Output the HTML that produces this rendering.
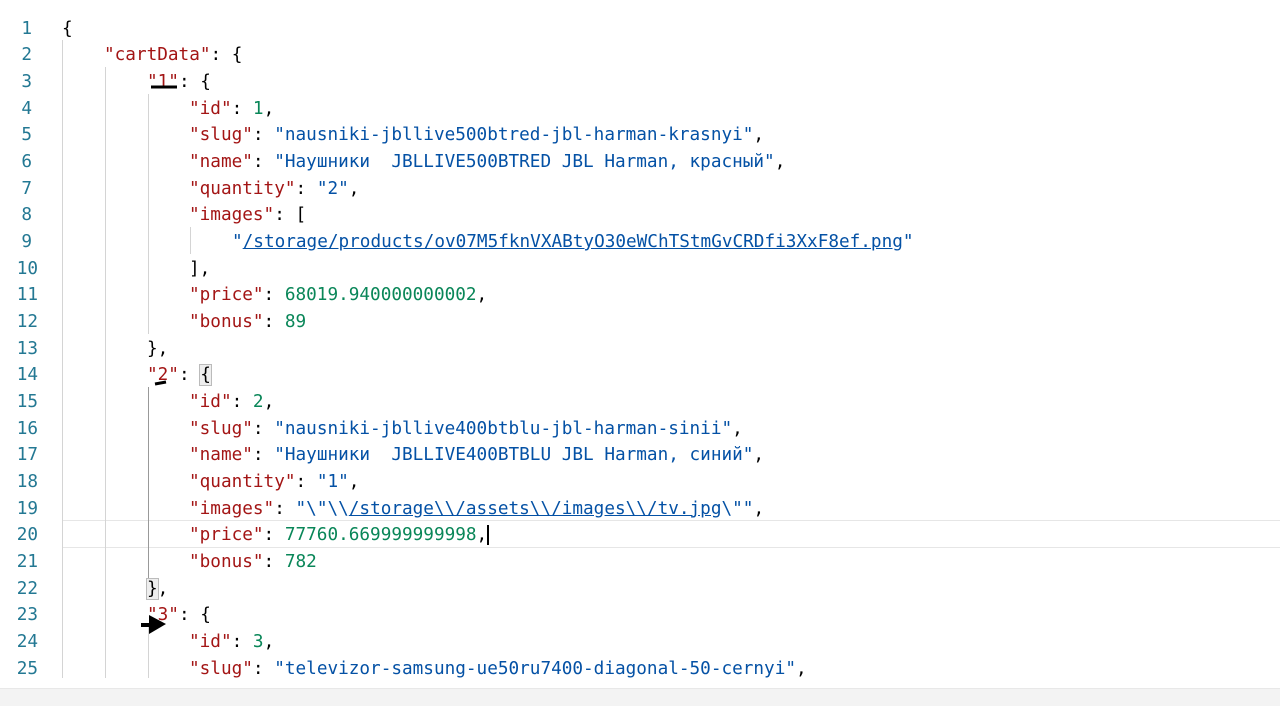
<!DOCTYPE html>
<html><head><meta charset="utf-8">
<style>
html,body{margin:0;padding:0;background:#fff;width:1280px;height:706px;overflow:hidden;position:relative}
.ln,.c{position:absolute;font-family:"DejaVu Sans Mono","Liberation Mono","Noto Sans CJK SC",monospace;font-size:17.7px;line-height:26.67px;white-space:pre;margin-top:2px}
.ln{color:#237893;width:32px;text-align:right;left:0}
.k{color:#a31515}.s{color:#0451a5}.n{color:#098658}.p{color:#000}
.u{text-decoration:underline}
.g{position:absolute;width:1px;background:#d4d4d4}
</style></head><body>
<div style="position:absolute;left:62px;top:520px;width:1218px;height:26px;border-top:1px solid #e6e6e6;border-bottom:1px solid #e6e6e6"></div>
<div class="g" style="left:62px;top:40px;height:638px"></div>
<div class="g" style="left:105px;top:67px;height:611px"></div>
<div class="g" style="left:148px;top:94px;height:240px"></div>
<div class="g" style="left:148px;top:387px;height:207px;background:#999"></div>
<div class="g" style="left:148px;top:627px;height:51px"></div>
<div class="g" style="left:190px;top:227px;height:27px"></div>
<div style="position:absolute;left:0;top:688px;width:1280px;height:18px;background:#f3f3f3;border-top:1px solid #e8e8e8"></div>

<div class="ln" style="top:13.7px">1</div><div class="c p" style="left:62px;top:13.7px">{</div>
<div class="ln" style="top:40.3px">2</div><div class="c" style="left:104px;top:40.3px"><span class="k">"cartData"</span>: {</div>
<div class="ln" style="top:67px">3</div><div class="c" style="left:147px;top:67px"><span class="k">"1"</span>: {</div>
<div class="ln" style="top:93.7px">4</div><div class="c" style="left:189px;top:93.7px"><span class="k">"id"</span>: <span class="n">1</span>,</div>
<div class="ln" style="top:120.3px">5</div><div class="c" style="left:189px;top:120.3px"><span class="k">"slug"</span>: <span class="s">"nausniki-jbllive500btred-jbl-harman-krasnyi"</span>,</div>
<div class="ln" style="top:147px">6</div><div class="c" style="left:189px;top:147px"><span class="k">"name"</span>: <span class="s">"Наушники  JBLLIVE500BTRED JBL Harman, красный"</span>,</div>
<div class="ln" style="top:173.7px">7</div><div class="c" style="left:189px;top:173.7px"><span class="k">"quantity"</span>: <span class="s">"2"</span>,</div>
<div class="ln" style="top:200.3px">8</div><div class="c" style="left:189px;top:200.3px"><span class="k">"images"</span>: [</div>
<div class="ln" style="top:227px">9</div><div class="c" style="left:232px;top:227px"><span class="s">"<span class="u">/storage/products/ov07M5fknVXABtyO30eWChTStmGvCRDfi3XxF8ef.png</span>"</span></div>
<div class="ln" style="top:253.7px;left:6px">10</div><div class="c" style="left:189px;top:253.7px">],</div>
<div class="ln" style="top:280.3px;left:6px">11</div><div class="c" style="left:189px;top:280.3px"><span class="k">"price"</span>: <span class="n">68019.940000000002</span>,</div>
<div class="ln" style="top:307px;left:6px">12</div><div class="c" style="left:189px;top:307px"><span class="k">"bonus"</span>: <span class="n">89</span></div>
<div class="ln" style="top:333.7px;left:6px">13</div><div class="c" style="left:147px;top:333.7px">},</div>
<div class="ln" style="top:360.3px;left:6px">14</div><div class="c" style="left:147px;top:360.3px"><span class="k">"2"</span>: <span style="background:#eee;outline:1px solid #bbb">{</span></div>
<div class="ln" style="top:387px;left:6px">15</div><div class="c" style="left:189px;top:387px"><span class="k">"id"</span>: <span class="n">2</span>,</div>
<div class="ln" style="top:413.7px;left:6px">16</div><div class="c" style="left:189px;top:413.7px"><span class="k">"slug"</span>: <span class="s">"nausniki-jbllive400btblu-jbl-harman-sinii"</span>,</div>
<div class="ln" style="top:440.3px;left:6px">17</div><div class="c" style="left:189px;top:440.3px"><span class="k">"name"</span>: <span class="s">"Наушники  JBLLIVE400BTBLU JBL Harman, синий"</span>,</div>
<div class="ln" style="top:467px;left:6px">18</div><div class="c" style="left:189px;top:467px"><span class="k">"quantity"</span>: <span class="s">"1"</span>,</div>
<div class="ln" style="top:493.7px;left:6px">19</div><div class="c" style="left:189px;top:493.7px"><span class="k">"images"</span>: <span class="s">"\"\\<span class="u">/storage\\/assets\\/images\\/tv.jpg</span>\""</span>,</div>
<div class="ln" style="top:520.3px;left:6px">20</div><div class="c" style="left:189px;top:520.3px"><span class="k">"price"</span>: <span class="n">77760.669999999998</span>,<span style="border-left:2px solid #000"></span></div>
<div class="ln" style="top:547px;left:6px">21</div><div class="c" style="left:189px;top:547px"><span class="k">"bonus"</span>: <span class="n">782</span></div>
<div class="ln" style="top:573.7px;left:6px">22</div><div class="c" style="left:147px;top:573.7px"><span style="background:#eee;outline:1px solid #bbb">}</span>,</div>
<div class="ln" style="top:600.3px;left:6px">23</div><div class="c" style="left:147px;top:600.3px"><span class="k">"3"</span>: {</div>
<div class="ln" style="top:627px;left:6px">24</div><div class="c" style="left:189px;top:627px"><span class="k">"id"</span>: <span class="n">3</span>,</div>
<div class="ln" style="top:653.7px;left:6px">25</div><div class="c" style="left:189px;top:653.7px"><span class="k">"slug"</span>: <span class="s">"televizor-samsung-ue50ru7400-diagonal-50-cernyi"</span>,</div>

<svg style="position:absolute;left:0;top:0" width="1280" height="706">
<path d="M151 87 L177 87" stroke="#000" stroke-width="3"/>
<path d="M155 384 L166 382" stroke="#000" stroke-width="3"/>
<path d="M141 625 L152 625" stroke="#000" stroke-width="4"/>
<path d="M149 615 L166 624 L149 634 Z" fill="#000"/>
</svg>
</body></html>
